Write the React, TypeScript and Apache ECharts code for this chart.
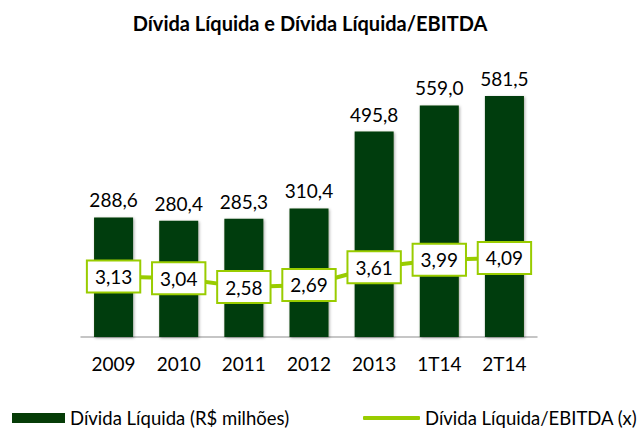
import React, { useEffect, useRef } from "react";
import * as echarts from "echarts";

const categories = ["2009", "2010", "2011", "2012", "2013", "1T14", "2T14"];
const dividaLiquida = [288.6, 280.4, 285.3, 310.4, 495.8, 559.0, 581.5];
const dividaEbitda = [3.13, 3.04, 2.58, 2.69, 3.61, 3.99, 4.09];
const seriesNames = ["Dívida Líquida (R$ milhões)", "Dívida Líquida/EBITDA (x)"];
const titleText = "Dívida Líquida e Dívida Líquida/EBITDA";

const fmt = (v: number, d: number) => v.toFixed(d).replace(".", ",");

const FONT = "Lato";
const BAR = "#063c07";
const LINE = "#99cc00";

export default function App() {
  const ref = useRef<HTMLDivElement>(null);
  useEffect(() => {
    if (!ref.current) return;
    const chart = echarts.init(ref.current, undefined, { renderer: "svg" });
    chart.setOption({
      animation: false,
      backgroundColor: "#ffffff",
      title: {
        text: titleText,
        left: 310,
        textAlign: "center",
        top: 11,
        padding: 0,
        textStyle: { fontFamily: FONT, fontWeight: "bold", fontSize: 20, color: "#000", lineHeight: 24 },
      },
      legend: [
        {
          data: [{ name: seriesNames[0], icon: "rect" }],
          left: 12,
          top: 408,
          padding: 0,
          itemWidth: 53,
          itemHeight: 10,
          itemGap: 0,
          textStyle: { fontFamily: FONT, fontSize: 18.5, color: "#000", lineHeight: 20 },
        },
        {
          data: [{ name: seriesNames[1], icon: "roundRect" }],
          left: 363,
          top: 408,
          padding: 0,
          itemWidth: 57,
          itemHeight: 4,
          itemGap: 0,
          textStyle: { fontFamily: FONT, fontSize: 18.5, color: "#000", lineHeight: 20 },
        },
      ],
      grid: { left: 81, right: 106, top: 47, bottom: 92, containLabel: false },
      xAxis: {
        type: "category",
        data: categories,
        axisLine: { show: true, lineStyle: { color: "#b3b3b3", width: 1.5 } },
        axisTick: { show: false },
        axisLabel: { fontFamily: FONT, fontSize: 19, color: "#000", margin: 17 },
      },
      yAxis: [
        { type: "value", min: 0, max: 700, show: false, splitLine: { show: false } },
        { type: "value", min: 0, max: 15, show: false, splitLine: { show: false } },
      ],
      series: [
        {
          name: seriesNames[0],
          type: "bar",
          data: dividaLiquida,
          barWidth: 39,
          itemStyle: {
            color: BAR,
            shadowBlur: 3,
            shadowColor: "rgba(0,0,0,0.35)",
            shadowOffsetX: 1,
            shadowOffsetY: 1,
          },
          label: {
            show: true,
            position: "top",
            distance: 8,
            fontFamily: FONT,
            fontSize: 19,
            color: "#000",
            formatter: (p: any) => fmt(p.value, 1),
          },
        },
        {
          name: seriesNames[1],
          type: "line",
          yAxisIndex: 1,
          data: dividaEbitda,
          symbol: "rect",
          symbolSize: 1,
          showSymbol: true,
          lineStyle: { color: LINE, width: 4 },
          itemStyle: { color: LINE },
          z: 5,
          label: {
            show: true,
            position: "inside",
            fontFamily: FONT,
            fontSize: 19,
            lineHeight: 20,
            color: "#000",
            backgroundColor: "#ffffff",
            borderColor: LINE,
            borderWidth: 2,
            padding: [6, 7, 4, 7],
            formatter: (p: any) => fmt(p.value, 2),
          },
        },
      ],
    });
    return () => chart.dispose();
  }, []);
  return <div ref={ref} style={{ width: 643, height: 429, position: "absolute", left: 0, top: 0 }} />;
}
